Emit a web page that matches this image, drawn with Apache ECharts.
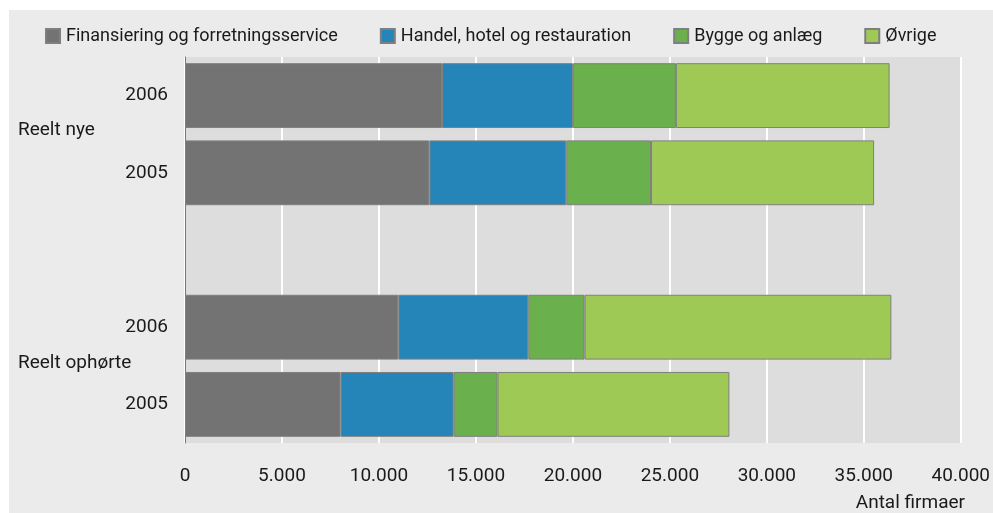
<!DOCTYPE html>
<html>
<head>
<meta charset="utf-8">
<script src="https://cdn.jsdelivr.net/npm/echarts@6/dist/echarts.min.js"></script>
<style>
  html, body { margin: 0; padding: 0; background: #ffffff; }
  #main { width: 993px; height: 513px; }
</style>
</head>
<body>
<div id="main"></div>
<script>
// kategorier (tom plads mellem grupperne)
var categories = ['2006', '2005', '', '2006', '2005'];
var groups = ['Reelt nye', 'Reelt ophørte'];

// antal firmaer pr. branche
var finansiering = [13250, 12600, null, 11000, 8020];
var handel = [6750, 7060, null, 6700, 5830];
var bygge = [5310, 4370, null, 2900, 2260];
var ovrige = [11020, 11500, null, 15820, 11960];

var seriesNames = ['Finansiering og forretningsservice', 'Handel, hotel og restauration', 'Bygge og anlæg', 'Øvrige'];
var colors = ['#737373', '#2585b8', '#6ab04c', '#9fc955'];

var font = 'Roboto, sans-serif';
var fs = 19;

function fmt (v) {
  return String(v).replace(/\B(?=(\d{3})+(?!\d))/g, '.');
}

var myChart = echarts.init(document.getElementById('main'));

var dataSets = [finansiering, handel, bygge, ovrige];
var series = dataSets.map(function (d, i) {
  return {
    name: seriesNames[i],
    type: 'bar',
    stack: 'total',
    data: d,
    barCategoryGap: '16%',
    itemStyle: {
      color: colors[i],
      borderColor: '#7f7f7f',
      borderWidth: 1
    }
  };
});

var option = {
  animation: false,
  textStyle: { fontFamily: font },
  graphic: [
    {
      type: 'rect', z: -10, silent: true,
      shape: { x: 9, y: 10, width: 984, height: 503 },
      style: { fill: '#ebebeb' }
    },
    {
      type: 'text', left: 18, top: 121,
      style: { text: groups[0], fontSize: fs, fontFamily: font, fill: '#1a1a1a' }
    },
    {
      type: 'text', left: 18, top: 354,
      style: { text: groups[1], fontSize: fs, fontFamily: font, fill: '#1a1a1a' }
    },
    {
      type: 'text', right: 28, top: 494,
      style: { text: 'Antal firmaer', fontSize: fs, fontFamily: font, fill: '#1a1a1a' }
    }
  ],
  legend: {
    data: seriesNames,
    left: 40,
    top: 22,
    itemWidth: 14,
    itemHeight: 14,
    itemGap: 42,
    icon: 'rect',
    textStyle: { fontSize: 18, fontFamily: font, color: '#1a1a1a', padding: [0, 0, 0, 1] }
  },
  grid: {
    left: 185,
    right: 30,
    top: 57,
    bottom: 70,
    show: true,
    backgroundColor: '#dddddd',
    borderWidth: 0
  },
  xAxis: {
    type: 'value',
    min: 0,
    max: 40000,
    interval: 5000,
    axisLine: { show: false },
    axisTick: { show: false },
    splitLine: { lineStyle: { color: '#ffffff', width: 2 } },
    axisLabel: {
      margin: 24,
      fontSize: fs,
      color: '#1a1a1a',
      formatter: fmt
    }
  },
  yAxis: {
    type: 'category',
    inverse: true,
    data: categories,
    axisLine: { show: true, lineStyle: { color: '#777777', width: 1 } },
    axisTick: { show: false },
    axisLabel: { margin: 17, fontSize: fs, color: '#1a1a1a' }
  },
  series: series
};

myChart.setOption(option);
</script>
</body>
</html>
